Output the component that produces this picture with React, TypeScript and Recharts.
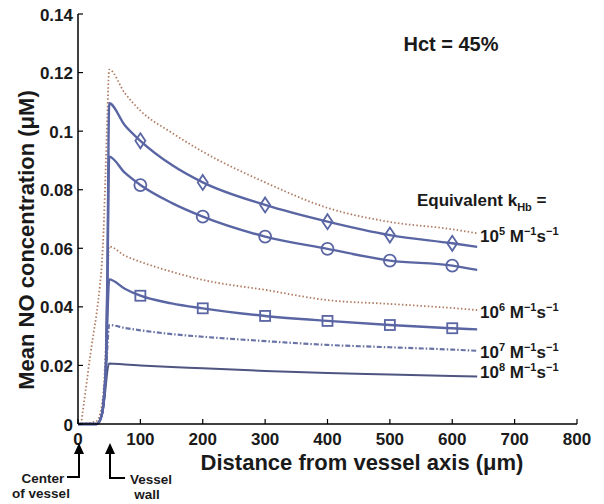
import React from 'react';
import { LineChart, Line, XAxis, YAxis } from 'recharts';

// axis ticks
const xTicks = [0, 100, 200, 300, 400, 500, 600, 700, 800];
const yTicks = [0, 0.02, 0.04, 0.06, 0.08, 0.1, 0.12, 0.14];
const markerX = [100, 200, 300, 400, 500, 600];

// distances (um) inside the vessel (rising edge) and outside (decay)
const innerX = [0, 30, 38, 42, 45, 47];
const outerX = [50, 75, 100, 150, 200, 300, 400, 500, 600, 640];

// k = 1e5, solid with diamonds
const diamondIn = [0, 0, 0.003, 0.01, 0.022, 0.05];
const diamondOut = [0.1095, 0.102, 0.0967, 0.0885, 0.0825, 0.0748, 0.0691, 0.0645, 0.0617, 0.0605];
// k = 1e5, solid with circles
const circleIn = [0, 0, 0.003, 0.01, 0.022, 0.045];
const circleOut = [0.0913, 0.0858, 0.0816, 0.0755, 0.0708, 0.064, 0.0598, 0.0558, 0.0541, 0.0526];
// k = 1e5, dotted (upper)
const dot5InX = [5, 10, 15, 20, 25, 30, 35, 38, 41, 44, 47];
const dot5In = [0, 0.008, 0.016, 0.024, 0.031, 0.038, 0.047, 0.054, 0.066, 0.085, 0.105];
const dot5Out = [0.121, 0.113, 0.107, 0.0995, 0.093, 0.0825, 0.0738, 0.069, 0.0665, 0.0651];
// k = 1e6, dotted
const dot6In = [0, 0.001, 0.006, 0.015, 0.03, 0.045];
const dot6Out = [0.0606, 0.0575, 0.0554, 0.052, 0.0492, 0.0458, 0.0423, 0.041, 0.0396, 0.0389];
// k = 1e6, solid with squares
const squareIn = [0, 0, 0.003, 0.01, 0.02, 0.035];
const squareOut = [0.0494, 0.0462, 0.0438, 0.0412, 0.0395, 0.0369, 0.0352, 0.0338, 0.0327, 0.0323];
// k = 1e7, dash-dot
const dd7In = [0, 0, 0.003, 0.009, 0.018, 0.026];
const dd7Out = [0.0338, 0.0328, 0.032, 0.0307, 0.0298, 0.0283, 0.027, 0.0262, 0.0254, 0.025];
// k = 1e8, solid
const s8In = [0, 0, 0.003, 0.008, 0.014, 0.018];
const s8Out = [0.0207, 0.0203, 0.02, 0.0195, 0.019, 0.0181, 0.0174, 0.0169, 0.0164, 0.0162];

const build = (inX: number[], inY: number[], outY: number[]) =>
  inX.map((x, i) => ({ x, y: inY[i] })).concat(outerX.map((x, i) => ({ x, y: outY[i] })));

const BLUE = '#5a65a3';
const DOTC = '#b07c62';
const INK = '#1a1a1a';
const FONT = '"Liberation Sans", Arial, sans-serif';

const fmt = (v: number) => String(Number(v.toFixed(2)));

const BottomTick = (p: any) => (
  <g>
    <line x1={p.x} x2={p.x} y1={p.y} y2={p.y - 5} stroke="#000" strokeWidth={1.2} />
    <text x={p.x} y={p.y + 21} textAnchor="middle" fontSize={17} fontWeight="bold" fill={INK} fontFamily={FONT}>
      {p.payload.value}
    </text>
  </g>
);
const TopTick = (p: any) => (
  <line x1={p.x} x2={p.x} y1={p.y} y2={p.y + 5} stroke="#000" strokeWidth={1.2} />
);
const LeftTick = (p: any) => (
  <g>
    <line x1={p.x} x2={p.x + 5} y1={p.y} y2={p.y} stroke="#000" strokeWidth={1.2} />
    <text x={p.x - 5} y={p.y + 6.5} textAnchor="end" fontSize={17} fontWeight="bold" fill={INK} fontFamily={FONT}>
      {fmt(p.payload.value)}
    </text>
  </g>
);
const RightTick = (p: any) => (
  <line x1={p.x} x2={p.x - 5} y1={p.y} y2={p.y} stroke="#000" strokeWidth={1.2} />
);

const makeDot = (shape: string) => (p: any) => {
  const key = `${shape}-${p.index}`;
  if (!markerX.includes(p.payload.x)) return <g key={key} />;
  const { cx, cy } = p;
  if (shape === 'diamond')
    return (
      <polygon key={key} points={`${cx},${cy - 7.5} ${cx + 5},${cy} ${cx},${cy + 7.5} ${cx - 5},${cy}`}
        fill="none" stroke={BLUE} strokeWidth={1.8} />
    );
  if (shape === 'circle')
    return <circle key={key} cx={cx} cy={cy} r={6} fill="none" stroke={BLUE} strokeWidth={1.8} />;
  return <rect key={key} x={cx - 5} y={cy - 5} width={10} height={10} fill="none" stroke={BLUE} strokeWidth={1.8} />;
};

const KLabel = ({ x, y, exp }: any) => (
  <text x={x} y={y} fontSize={17} fontWeight="bold" fill={INK} fontFamily={FONT}>
    10<tspan dy={-7} fontSize={11}>{exp}</tspan>
    <tspan dy={7}> M</tspan>
    <tspan dy={-7} fontSize={11}>−1</tspan>
    <tspan dy={7}>s</tspan>
    <tspan dy={-7} fontSize={11}>−1</tspan>
  </text>
);

// the chart svg starts 6px above the body margin so the top tick label fits inside it
const SHIFT = 6;

export default function App() {
  return (
    <div style={{ position: 'relative', width: 596, height: 502, marginTop: -SHIFT, fontFamily: FONT }}>
      <LineChart width={596} height={502} margin={{ top: 6 + SHIFT, right: 27, bottom: 50, left: 0 }}>
        <XAxis type="number" dataKey="x" domain={[0, 800]} ticks={xTicks} interval={0} height={30}
          tickSize={0} tickMargin={0} tick={BottomTick} axisLine={{ stroke: '#000', strokeWidth: 1.5 }} tickLine={false} />
        <XAxis xAxisId="top" orientation="top" type="number" dataKey="x" domain={[0, 800]} ticks={xTicks} interval={0}
          height={0} tickSize={0} tickMargin={0} tick={TopTick} axisLine={{ stroke: '#000', strokeWidth: 1.5 }} tickLine={false} />
        <YAxis type="number" domain={[0, 0.14]} ticks={yTicks} interval={0} width={70}
          tickSize={0} tickMargin={0} tick={LeftTick} axisLine={{ stroke: '#000', strokeWidth: 1.5 }} tickLine={false} />
        <YAxis yAxisId="right" orientation="right" type="number" domain={[0, 0.14]} ticks={yTicks} interval={0} width={0}
          tickSize={0} tickMargin={0} tick={RightTick} axisLine={{ stroke: '#000', strokeWidth: 1.5 }} tickLine={false} />

        <Line data={build(dot5InX, dot5In, dot5Out)} dataKey="y" type="monotone" stroke={DOTC} strokeWidth={1.8}
          strokeDasharray="1.5 2.2" dot={false} isAnimationActive={false} />
        <Line data={build(innerX, dot6In, dot6Out)} dataKey="y" type="monotone" stroke={DOTC} strokeWidth={1.8}
          strokeDasharray="1.5 2.2" dot={false} isAnimationActive={false} />
        <Line data={build(innerX, dd7In, dd7Out)} dataKey="y" type="monotone" stroke="#6a73a6" strokeWidth={2.2}
          strokeDasharray="5 2 1.5 2" dot={false} isAnimationActive={false} />
        <Line data={build(innerX, s8In, s8Out)} dataKey="y" type="monotone" stroke="#4d5580" strokeWidth={2}
          dot={false} isAnimationActive={false} />
        <Line data={build(innerX, squareIn, squareOut)} dataKey="y" type="monotone" stroke={BLUE} strokeWidth={2.4}
          dot={makeDot('square')} isAnimationActive={false} />
        <Line data={build(innerX, circleIn, circleOut)} dataKey="y" type="monotone" stroke={BLUE} strokeWidth={2.4}
          dot={makeDot('circle')} isAnimationActive={false} />
        <Line data={build(innerX, diamondIn, diamondOut)} dataKey="y" type="monotone" stroke={BLUE} strokeWidth={2.4}
          dot={makeDot('diamond')} isAnimationActive={false} />
      </LineChart>

      <svg width={596} height={496} style={{ position: 'absolute', left: 0, top: SHIFT, pointerEvents: 'none' }}>
        <text x={443} y={43} textAnchor="middle" fontSize={20} fontWeight="bold" fill={INK} fontFamily={FONT}>Hct = 45%</text>
        <text x={409} y={198} fontSize={17} fontWeight="bold" fill={INK} fontFamily={FONT}>
          Equivalent k<tspan dy={5} fontSize={11}>Hb</tspan><tspan dy={-5}> =</tspan>
        </text>
        <KLabel x={472} y={234} exp="5" />
        <KLabel x={472} y={310} exp="6" />
        <KLabel x={472} y={350} exp="7" />
        <KLabel x={472} y={370} exp="8" />

        <text x={354} y={462} textAnchor="middle" fontSize={22} fontWeight="bold" fill={INK} fontFamily={FONT}>
          Distance from vessel axis (μm)
        </text>
        <text x={26} y={232} textAnchor="middle" fontSize={22} fontWeight="bold" fill={INK} fontFamily={FONT}
          transform="rotate(-90, 26, 232)">
          Mean NO concentration (μM)
        </text>

        {/* Center of vessel annotation */}
        <polyline points="59,469 71,469 71,444" fill="none" stroke="#000" strokeWidth={2} />
        <polygon points="71,435 66,446 76,446" fill="#000" />
        <text x={35} y={475} textAnchor="middle" fontSize={13.5} fontWeight="bold" fill={INK} fontFamily={FONT}>Center</text>
        <text x={33} y={490} textAnchor="middle" fontSize={13.5} fontWeight="bold" fill={INK} fontFamily={FONT}>of vessel</text>

        {/* Vessel wall annotation */}
        <polyline points="117,470 102,470 102,444" fill="none" stroke="#000" strokeWidth={2} />
        <polygon points="102,435 97,446 107,446" fill="#000" />
        <text x={143} y={476} textAnchor="middle" fontSize={13.5} fontWeight="bold" fill={INK} fontFamily={FONT}>Vessel</text>
        <text x={139} y={491} textAnchor="middle" fontSize={13.5} fontWeight="bold" fill={INK} fontFamily={FONT}>wall</text>
      </svg>
    </div>
  );
}
